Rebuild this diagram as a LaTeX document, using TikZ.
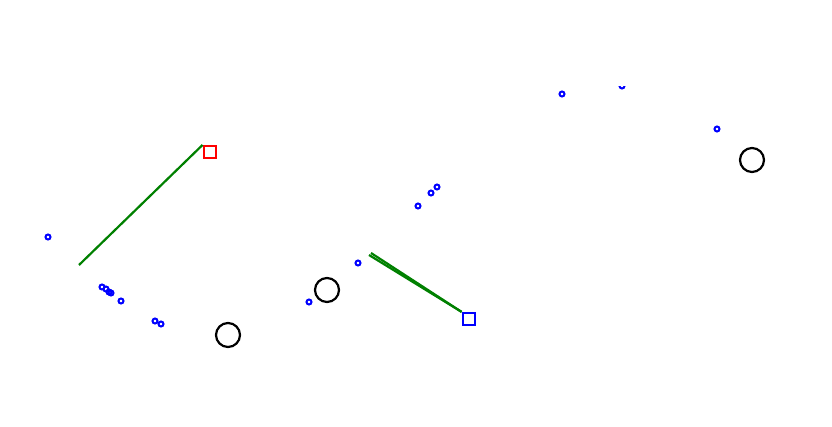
\documentclass[tikz,border=0pt]{standalone}
\usepackage{tikz}
\usetikzlibrary{positioning}
\definecolor{trackgreen}{RGB}{0,128,0}
\tikzset{
  hit/.style={circle, draw=blue, line width=0.5mm, inner sep=0pt, minimum size=1.25mm},
  anchorpt/.style={circle, draw=black, line width=0.55mm, inner sep=0pt, minimum size=6mm},
  startbox/.style={rectangle, draw=red, line width=0.55mm, inner sep=0pt, minimum size=3mm},
  endbox/.style={rectangle, draw=blue, line width=0.55mm, inner sep=0pt, minimum size=3mm},
  track/.style={draw=trackgreen, line width=0.55mm},
}

\begin{document}
\begin{tikzpicture}[x=0.25mm, y=-0.25mm]

  \useasboundingbox (0,0) rectangle (832,427);
  \clip (0,86.5) rectangle (832,427);

  % ── Measured hits ────────────────────────────────────────────────────
  \foreach \px/\py [count=\i] in {48/237, 102/287, 106/289, 109/292, 111/293,
      121/301, 155/321, 161/324, 309/302, 358/263, 418/206, 431/193,
      437/187, 562/94, 622/86, 717/129}
    \node[hit] (h\i) at (\px,\py) {};

  % ── Reference points ─────────────────────────────────────────────────
  \node[anchorpt] (ref1) at (228,335) {};
  \node[anchorpt] (ref2) at (327,290) {};
  \node[anchorpt] (ref3) at (752,160) {};

  % ── Track ends ───────────────────────────────────────────────────────
  \node[startbox] (sq1) at (209.7,152) {};
  \node[endbox] (sq2) at (468.7,319) {};

  \coordinate (tail1) at (79,265);
  \coordinate (tail2) at (371,253);
  \coordinate (tail3) at (369,255);

  % ── Fitted segments ──────────────────────────────────────────────────
  \draw[track] (tail1) -- (sq1.north west);
  \draw[track] (tail2) -- (sq2.north west);
  \draw[track] (tail3) -- (sq2.north west);

\end{tikzpicture}
\end{document}
